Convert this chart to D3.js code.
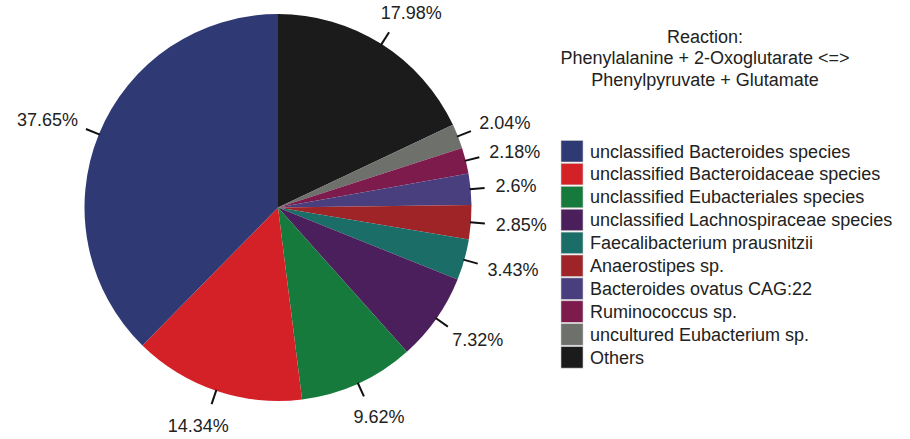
<!DOCTYPE html>
<html>
<head>
<meta charset="utf-8">
<script src="https://cdn.jsdelivr.net/npm/d3@7"></script>
<style>
  body { margin: 0; background: #fff; }
  svg { font-family: "Liberation Sans", Arial, Helvetica, sans-serif; }
</style>
</head>
<body>
<div id="chart"></div>
<script>
// legend order (top to bottom)
const species = [
  "unclassified Bacteroides species",
  "unclassified Bacteroidaceae species",
  "unclassified Eubacteriales species",
  "unclassified Lachnospiraceae species",
  "Faecalibacterium prausnitzii",
  "Anaerostipes sp.",
  "Bacteroides ovatus CAG:22",
  "Ruminococcus sp.",
  "uncultured Eubacterium sp.",
  "Others"
];
const percents = [37.65, 14.34, 9.62, 7.32, 3.43, 2.85, 2.6, 2.18, 2.04, 17.98];
const colors = ["#2f3a74", "#d42128", "#157a3b", "#4b1f5b", "#1b6e67",
                "#9e2428", "#4a3f7e", "#7d1c4c", "#6e706c", "#1b1b1b"];
const titleLines = ["Reaction:", "Phenylalanine + 2-Oxoglutarate <=>", "Phenylpyruvate + Glutamate"];

const width = 910, height = 439;
const cx = 278, cy = 207.5, r = 193.5;

const svg = d3.select("#chart").append("svg")
  .attr("width", width)
  .attr("height", height);

const color = d3.scaleOrdinal().domain(species).range(colors);

// slices run clockwise from 12 o'clock, Others first
const rows = species.map((s, i) => ({ name: s, value: percents[i] })).reverse();
const pie = d3.pie().sort(null).value(d => d.value);
const arcs = pie(rows);
const arc = d3.arc().innerRadius(0).outerRadius(r);

const g = svg.append("g").attr("transform", `translate(${cx},${cy})`);

g.selectAll("path.slice")
  .data(arcs)
  .join("path")
  .attr("class", "slice")
  .attr("d", arc)
  .attr("fill", d => color(d.data.name));

const mid = d => (d.startAngle + d.endAngle) / 2;

// leader ticks
g.selectAll("line.tick")
  .data(arcs)
  .join("line")
  .attr("class", "tick")
  .attr("x1", d => Math.sin(mid(d)) * (r - 1))
  .attr("y1", d => -Math.cos(mid(d)) * (r - 1))
  .attr("x2", d => Math.sin(mid(d)) * (r + 14))
  .attr("y2", d => -Math.cos(mid(d)) * (r + 14))
  .attr("stroke", "#111")
  .attr("stroke-width", 2);

// percent labels, box pushed outward from anchor point
const lr = r + 25;
const labels = g.selectAll("text.pct")
  .data(arcs)
  .join("text")
  .attr("class", "pct")
  .attr("font-size", 18)
  .attr("fill", "#222")
  .attr("text-anchor", "middle")
  .attr("dominant-baseline", "central")
  .text(d => `${d.data.value}%`);

labels.each(function(d) {
  const w = this.getComputedTextLength();
  const a = mid(d);
  const x = Math.sin(a) * lr + Math.sin(a) * w / 2;
  const y = -Math.cos(a) * lr - Math.cos(a) * 12;
  d3.select(this).attr("x", x).attr("y", y);
});

// title
svg.append("g")
  .selectAll("text")
  .data(titleLines)
  .join("text")
  .attr("x", 705)
  .attr("y", (d, i) => 36.7 + i * 21.5)
  .attr("text-anchor", "middle")
  .attr("dominant-baseline", "central")
  .attr("font-size", 18)
  .attr("fill", "#222")
  .text(d => d);

// legend
const legend = svg.append("g").attr("transform", "translate(561,140.5)");
const step = 22.9;

legend.selectAll("rect")
  .data(species)
  .join("rect")
  .attr("x", 0)
  .attr("y", (d, i) => i * step)
  .attr("width", 22)
  .attr("height", 21.5)
  .attr("fill", d => color(d))
  .attr("stroke", "#ccc")
  .attr("stroke-width", 0.6);

legend.selectAll("text")
  .data(species)
  .join("text")
  .attr("x", 29)
  .attr("y", (d, i) => i * step + 11)
  .attr("dominant-baseline", "central")
  .attr("font-size", 18)
  .attr("fill", "#222")
  .text(d => d);
</script>
</body>
</html>
